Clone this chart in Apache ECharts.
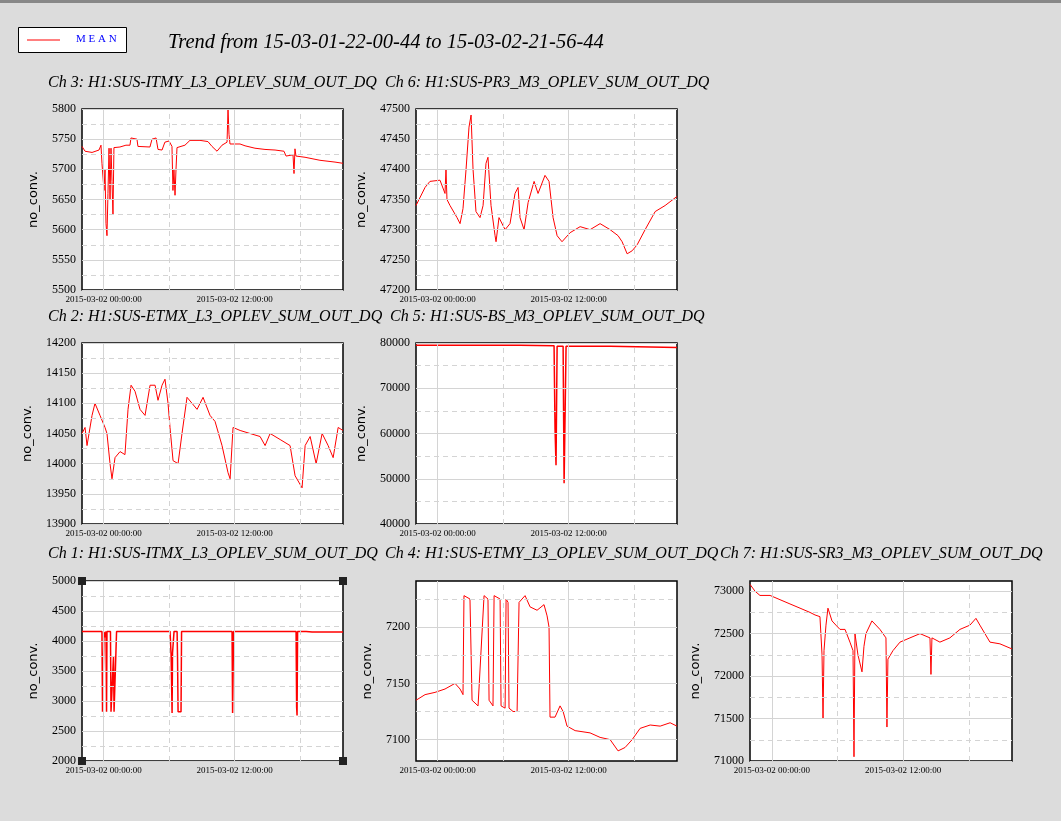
<!DOCTYPE html>
<html><head><meta charset="utf-8">
<script src="https://cdn.jsdelivr.net/npm/echarts@6/dist/echarts.min.js"></script>
<style>html,body{margin:0;padding:0;background:#dcdcdc}#c{width:1061px;height:821px}</style>
</head><body><div id="c"></div>
<script>
// time = hours since 2015-03-01 22:00:44
const xLabelHours = [1.988, 13.988];
const xLabelText = ['2015-03-02 00:00:00', '2015-03-02 12:00:00'];
const xGridHours = [1.988, 7.988, 13.988, 19.988];

const ch3T = [0,0.28,0.92,1.56,1.74,1.83,2.02,2.11,2.2,2.29,2.38,2.48,2.57,2.66,2.75,2.84,2.93,3.48,4.03,4.4,4.49,5.04,5.13,6.23,6.42,6.79,6.97,7.34,7.6,7.98,8.25,8.34,8.43,8.53,8.62,8.71,9.44,9.9,10.82,11.55,11.92,12.38,12.84,13.3,13.39,13.48,13.57,14.49,14.95,15.86,16.78,17.7,18.52,18.71,19.35,19.44,19.53,19.62,20.45,21.82,23.2,23.93];
const ch3V = [5738,5730,5728,5732,5740,5710,5665,5700,5610,5590,5660,5735,5650,5735,5680,5625,5736,5737,5740,5740,5752,5750,5738,5737,5750,5752,5733,5732,5745,5747,5738,5665,5700,5657,5700,5736,5740,5748,5748,5746,5738,5730,5740,5745,5800,5758,5742,5742,5739,5735,5733,5732,5730,5722,5724,5693,5734,5722,5720,5715,5712,5710];

const ch6T = [0,0.83,1.28,2.2,2.66,2.75,2.84,3.12,3.76,4.04,4.31,4.59,4.86,5.05,5.23,5.5,5.87,6.15,6.42,6.6,6.88,7.25,7.34,7.61,8.17,8.62,9.08,9.36,9.54,9.91,10.28,10.83,11.19,11.83,12.2,12.57,12.94,13.39,14.13,15.05,15.96,16.88,17.8,18.53,18.9,19.36,19.82,20.28,21.01,21.93,22.84,23.93];
const ch6V = [47340,47370,47380,47382,47360,47400,47350,47340,47320,47310,47335,47400,47470,47490,47400,47330,47320,47340,47410,47420,47340,47290,47280,47320,47300,47310,47360,47370,47320,47300,47345,47380,47360,47390,47380,47320,47290,47280,47295,47305,47300,47310,47300,47290,47280,47260,47265,47275,47300,47330,47340,47355];

const ch2T = [0,0.28,0.46,0.92,1.19,1.65,2.11,2.29,2.57,2.75,3.03,3.49,3.94,4.22,4.5,4.86,5.32,5.78,6.24,6.7,6.97,7.34,7.61,7.89,8.07,8.35,8.81,9.17,9.63,10.09,10.55,11.1,11.74,12.2,12.84,13.39,13.58,13.85,14.5,15.41,16.33,16.79,17.25,18.17,19.08,19.54,20.18,20.46,20.92,21.47,22.02,22.57,23.03,23.49,23.93];
const ch2V = [14050,14060,14030,14080,14100,14080,14060,14050,14000,13975,14010,14020,14015,14090,14130,14120,14090,14080,14130,14130,14105,14130,14140,14100,14060,14005,14000,14050,14110,14100,14090,14110,14080,14070,14030,13985,13975,14060,14055,14050,14045,14030,14050,14040,14030,13980,13960,14030,14045,14000,14050,14030,14010,14060,14055];

const ch5T = [0,9.54,12.66,12.75,12.84,12.94,13.49,13.58,13.67,13.76,17.8,17.98,23.93];
const ch5V = [79500,79400,79300,61000,53000,79300,79300,49000,64000,79300,79200,79000,79000];

const ch1T = [0,1.83,1.88,2.02,2.11,2.2,2.25,2.29,2.61,2.66,2.84,2.89,2.94,3.12,3.17,8.07,8.17,8.26,8.3,8.44,8.72,8.76,8.81,9.08,9.13,13.76,13.81,13.9,19.63,19.68,19.72,19.77,20.55,21.1,21.19,23.93];
const ch1V = [4160,4160,2820,4150,4060,4160,2820,4160,4160,2820,2820,3750,2820,2820,4160,4160,3770,2800,3800,4160,4160,3720,2820,2820,4160,4160,2800,4160,4160,2900,2760,4160,4150,4160,4150,4150];

const ch4T = [0,0.83,1.74,2.66,3.58,4.04,4.31,4.4,4.95,5.14,5.69,6.24,6.6,6.7,7.06,7.16,7.71,7.8,8.17,8.26,8.44,8.53,8.9,9.27,9.45,10,10.46,11.1,11.74,12.02,12.2,12.29,12.75,13.21,13.49,13.85,14.59,15.96,16.88,17.8,18.53,19.17,19.82,20.55,21.47,22.39,23.3,23.93];
const ch4V = [7135,7140,7142,7145,7150,7145,7140,7228,7225,7135,7130,7228,7225,7135,7130,7228,7225,7130,7128,7225,7222,7128,7125,7125,7222,7228,7218,7215,7220,7210,7200,7120,7120,7130,7125,7112,7108,7106,7102,7100,7090,7093,7100,7110,7113,7112,7115,7112];

const ch7T = [0,0.46,0.91,1.83,2.74,3.65,4.57,5.48,5.94,6.39,6.58,6.67,6.76,6.94,7.12,7.49,7.85,8.22,8.68,9.13,9.41,9.5,9.59,9.86,10.23,10.41,10.59,11.14,11.87,12.42,12.51,12.6,13.06,13.7,14.61,15.53,16.44,16.53,16.62,17.35,18.26,19.18,20.09,20.64,21.0,21.92,22.83,23.93];
const ch7V = [73080,73000,72950,72950,72900,72850,72800,72750,72720,72700,72250,71500,72300,72600,72800,72650,72600,72550,72550,72400,72300,71050,72500,72250,72050,72350,72500,72650,72550,72450,71400,72200,72300,72400,72450,72500,72450,72020,72450,72400,72450,72550,72600,72680,72600,72400,72380,72320];

const panels = [
 {title:'Ch 3: H1:SUS-ITMY_L3_OPLEV_SUM_OUT_DQ', tx:48, ty:86, g:[82,109,261,181], min:5500, max:5800, ticks:[5500,5550,5600,5650,5700,5750,5800], minor:[5525,5575,5625,5675,5725,5775], t:ch3T, v:ch3V, step:false},
 {title:'Ch 6: H1:SUS-PR3_M3_OPLEV_SUM_OUT_DQ', tx:385, ty:86, g:[416,109,261,181], min:47200, max:47500, ticks:[47200,47250,47300,47350,47400,47450,47500], minor:[47225,47275,47325,47375,47425,47475], t:ch6T, v:ch6V, step:false},
 {title:'Ch 2: H1:SUS-ETMX_L3_OPLEV_SUM_OUT_DQ', tx:48, ty:320, g:[82,343,261,181], min:13900, max:14200, ticks:[13900,13950,14000,14050,14100,14150,14200], minor:[13925,13975,14025,14075,14125,14175], t:ch2T, v:ch2V, step:false},
 {title:'Ch 5: H1:SUS-BS_M3_OPLEV_SUM_OUT_DQ', tx:390, ty:320, g:[416,343,261,181], min:40000, max:80000, ticks:[40000,50000,60000,70000,80000], minor:[45000,55000,65000,75000], t:ch5T, v:ch5V, step:'end'},
 {title:'Ch 1: H1:SUS-ITMX_L3_OPLEV_SUM_OUT_DQ', tx:48, ty:557, g:[82,581,261,180], min:2000, max:5000, ticks:[2000,2500,3000,3500,4000,4500,5000], minor:[2250,2750,3250,3750,4250,4750], t:ch1T, v:ch1V, step:'end'},
 {title:'Ch 4: H1:SUS-ETMY_L3_OPLEV_SUM_OUT_DQ', tx:385, ty:557, g:[416,581,261,180], min:7081, max:7241, ticks:[7100,7150,7200], minor:[7125,7175,7225], t:ch4T, v:ch4V, step:false},
 {title:'Ch 7: H1:SUS-SR3_M3_OPLEV_SUM_OUT_DQ', tx:720, ty:557, g:[750,581,262,180], min:71000, max:73120, ticks:[71000,71500,72000,72500,73000], minor:[71250,71750,72250,72750], t:ch7T, v:ch7V, step:false}
];

const grids=[], xAxes=[], yAxes=[], series=[], graphics=[];
const gridLine = (c,dash)=>({color:c, type:dash?[5,4]:'solid', width:1});
panels.forEach((p,i)=>{
  grids.push({left:p.g[0], top:p.g[1], width:p.g[2], height:p.g[3], show:true, backgroundColor:'#fff', borderColor:'#000', borderWidth:1.5, containLabel:false});
  xAxes.push({type:'value', gridIndex:i, min:0, max:23.933, axisLine:{show:false}, axisTick:{show:false}, splitLine:{show:false},
    axisLabel:{customValues:xLabelHours, formatter:v=>xLabelText[xLabelHours.indexOf(v)] || '', fontFamily:'Liberation Serif', fontSize:9, color:'#000', margin:5}});
  yAxes.push({type:'value', gridIndex:i, min:p.min, max:p.max, axisLine:{show:false}, axisTick:{show:false}, splitLine:{show:false},
    axisLabel:{customValues:p.ticks, formatter:v=>String(v), fontFamily:'Liberation Serif', fontSize:12, color:'#000', margin:6},
    name:'no_conv.', nameLocation:'middle', nameGap:p.max>10000?48:42, nameTextStyle:{fontFamily:'DejaVu Sans', fontSize:13, color:'#000'}});
  const ml=[];
  p.ticks.forEach(y=>ml.push({yAxis:y, lineStyle:gridLine('#d4d4d4',false)}));
  p.minor.forEach(y=>ml.push({yAxis:y, lineStyle:gridLine('#d4d4d4',true)}));
  xGridHours.forEach((x,k)=>ml.push({xAxis:x, lineStyle:gridLine('#d4d4d4',k%2===1)}));
  series.push({type:'line', xAxisIndex:i, yAxisIndex:i, data:[], silent:true, z:1,
    markLine:{silent:true, symbol:'none', label:{show:false}, animation:false, data:ml}});
  series.push({type:'line', xAxisIndex:i, yAxisIndex:i, data:p.t.map((t,k)=>[t,p.v[k]]), showSymbol:false, symbol:'none', step:p.step,
    lineStyle:{color:'#f00', width:p.step?1.5:1}, z:3, animation:false, clip:true});
  graphics.push({type:'text', left:p.tx, top:p.ty-11, style:{text:p.title, font:'italic 16px "Liberation Serif"', fill:'#000'}});
});
// Ch1 selection corner markers
const c1=panels[4].g;
[[c1[0],c1[1]],[c1[0]+c1[2],c1[1]],[c1[0],c1[1]+c1[3]],[c1[0]+c1[2],c1[1]+c1[3]]].forEach(([x,y])=>{
  graphics.push({type:'rect', shape:{x:x-4,y:y-4,width:8,height:8}, style:{fill:'#222'}, z:10});
});
graphics.push({type:'rect', shape:{x:0,y:0,width:1061,height:3}, style:{fill:'#888'}});
graphics.push({type:'rect', shape:{x:18.5,y:27.5,width:108,height:25}, style:{fill:'#fff', stroke:'#000', lineWidth:1}});
graphics.push({type:'line', shape:{x1:27,y1:40,x2:60,y2:40}, style:{stroke:'#f00', lineWidth:1}});
graphics.push({type:'text', left:76, top:34, style:{text:'M E A N', font:'11px "Liberation Serif"', fill:'#00f'}});
graphics.push({type:'text', left:168, top:33, style:{text:'Trend from 15-03-01-22-00-44 to 15-03-02-21-56-44', font:'italic 20.5px "Liberation Serif"', fill:'#000'}});

const chart = echarts.init(document.getElementById('c'));
chart.setOption({backgroundColor:'#dcdcdc', animation:false, grid:grids, xAxis:xAxes, yAxis:yAxes, series:series, graphic:graphics});
</script></body></html>
